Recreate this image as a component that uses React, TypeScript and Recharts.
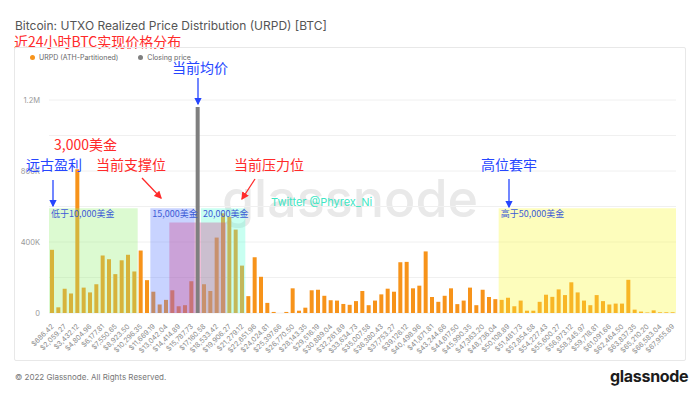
import { BarChart, Bar, XAxis, YAxis, CartesianGrid, ReferenceArea } from 'recharts';

// tick labels under every second bar (bin centre price)
const TICK_LABELS = [
  '$686.42', '$2,059.27', '$3,432.12', '$4,804.96', '$6,177.81', '$7,550.65', '$8,923.50', '$10,296.35',
  '$11,669.19', '$13,042.04', '$14,414.89', '$15,787.73', '$17,160.58', '$18,533.42', '$19,906.27', '$21,279.12',
  '$22,651.96', '$24,024.81', '$25,397.66', '$26,770.50', '$28,143.35', '$29,516.19', '$30,889.04', '$32,261.89',
  '$33,634.73', '$35,007.58', '$36,380.43', '$37,753.27', '$39,126.12', '$40,498.96', '$41,871.81', '$43,244.66',
  '$44,617.50', '$45,990.35', '$47,363.20', '$48,736.04', '$50,108.89', '$51,481.73', '$52,854.58', '$54,227.43',
  '$55,600.27', '$56,973.12', '$58,345.97', '$59,718.81', '$61,091.66', '$62,464.50', '$63,837.35', '$65,210.20',
  '$66,583.04', '$67,955.89',
];

// BTC held per realized-price bucket
const URPD = [
  356000, 32000, 137000, 110000, 810000, 143000, 116000, 162000, 324000, 303000,
  219000, 297000, 328000, 234000, 352000, 185000, 120000, 48000, 74000, 128000,
  38000, 44000, 179000, 0, 162000, 124000, 425000, 562000, 543000, 470000,
  267000, 95000, 314000, 204000, 57000, 6000, 0, 6000, 139000, 13000,
  30000, 128000, 131000, 97000, 72000, 70000, 51000, 46000, 67000, 124000,
  44000, 70000, 105000, 137000, 120000, 286000, 288000, 139000, 154000, 347000,
  90000, 63000, 97000, 139000, 50000, 70000, 143000, 44000, 131000, 90000,
  78000, 74000, 86000, 38000, 70000, 13000, 13000, 63000, 103000, 91000,
  133000, 101000, 173000, 116000, 70000, 44000, 101000, 67000, 48000, 53000,
  53000, 187000, 19000, 8000, 3000, 15000, 4000, 4000, 4000,
];

// closing price bucket
const CLOSE_INDEX = 23;
const CLOSE_VALUE = 1160000;

const Y_TICKS = [0, 200000, 400000, 600000, 800000, 1000000, 1200000];
const Y_LABELS: Record<number, string> = { 0: '0', 400000: '400K', 800000: '800K', 1200000: '1.2M' };

const data = URPD.map((v, i) => ({
  i,
  urpd: v,
  close: i === CLOSE_INDEX ? CLOSE_VALUE : 0,
}));

// highlighted zones drawn over the bars
const ZONES = [
  { from: 0, to: 13, top: 590000, fill: '#9cf07c', label: '低于10,000美金' },
  { from: 16, to: 22, top: 590000, fill: '#6080ff', label: '15,000美金' },
  { from: 24, to: 30, top: 590000, fill: '#60ffd8', label: '20,000美金' },
  { from: 19, to: 27, top: 510000, fill: '#d04890', label: '' },
  { from: 71, to: 98, top: 590000, fill: '#f8f840', label: '高于50,000美金' },
];

const ORANGE = '#f7931a';
const GREY = '#7f7f7f';
const BLUE = '#2646ff';
const RED = '#ff2a2a';
const CJK = '"Noto Sans CJK SC", sans-serif';

function XTick({ x, y, payload }: any) {
  const label = TICK_LABELS[payload.value / 2];
  if (label === undefined) return null;
  const tx = x + 2;
  const ty = y + 6;
  return (
    <text x={tx} y={ty} transform={`rotate(-45 ${tx} ${ty})`} textAnchor="end" fontSize={7} fill="#8a8a8a" fontFamily="Inter, sans-serif">
      {label}
    </text>
  );
}

export default function App() {
  return (
    <div style={{ position: 'absolute', left: 0, top: 0, width: 700, height: 394, background: '#fff', overflow: 'hidden', fontFamily: 'Inter, sans-serif' }}>
      <div style={{ position: 'absolute', left: 15, top: 18, fontSize: 12, color: '#555', whiteSpace: 'nowrap' }}>
        Bitcoin: UTXO Realized Price Distribution (URPD) [BTC]
      </div>
      <div style={{ position: 'absolute', left: 14, top: 31, fontSize: 14, color: RED, fontFamily: CJK, whiteSpace: 'nowrap', lineHeight: '20px' }}>
        近24小时BTC实现价格分布
      </div>
      <div style={{ position: 'absolute', left: 14, top: 47, width: 670, height: 312, border: '1px solid #e8e8e8', borderRadius: 2 }} />

      {/* legend */}
      <div style={{ position: 'absolute', left: 30, top: 53, display: 'flex', alignItems: 'center', fontSize: 7, color: '#666', whiteSpace: 'nowrap' }}>
        <span style={{ width: 5, height: 5, borderRadius: 3, background: ORANGE, marginRight: 4 }} />
        <span style={{ marginRight: 20 }}>URPD (ATH-Partitioned)</span>
        <span style={{ width: 5, height: 5, borderRadius: 3, background: GREY, marginRight: 4 }} />
        <span>Closing price</span>
      </div>

      {/* watermark */}
      <svg width={700} height={394} style={{ position: 'absolute', left: 0, top: 0 }}>
        <text x={350} y={217} textAnchor="middle" fontSize={52} fontWeight={500} fill="#e9e9e9" fontFamily="Inter, sans-serif">glassnode</text>
      </svg>

      <div style={{ position: 'absolute', left: 0, top: 0 }}>
        <BarChart width={700} height={394} data={data} margin={{ top: 100, right: 24, bottom: 0, left: 0 }} barSize={4}>
          <CartesianGrid vertical={false} stroke="#f0f0f0" />
          <XAxis dataKey="i" interval={1} height={81} axisLine={false} tickLine={false} tick={<XTick />} />
          <YAxis
            width={49}
            domain={[0, 1200000]}
            ticks={Y_TICKS}
            tickFormatter={(v: number) => Y_LABELS[v] ?? ''}
            axisLine={false}
            tickLine={false}
            tickSize={0}
            tickMargin={9}
            tick={{ fontSize: 7.5, fill: '#999' }}
          />
          <Bar dataKey="urpd" stackId="s" fill={ORANGE} isAnimationActive={false} />
          {ZONES.map((z, k) => (
            <ReferenceArea
              key={k}
              x1={z.from}
              x2={z.to}
              y1={0}
              y2={z.top}
              fill={z.fill}
              fillOpacity={0.35}
              stroke="none"
              zIndex={350}
              label={z.label ? { value: z.label, position: 'insideTopLeft', offset: 2, fill: '#3c5bd6', fontSize: 9, fontFamily: CJK } : undefined}
            />
          ))}
          <Bar dataKey="close" stackId="s" fill={GREY} isAnimationActive={false} zIndex={400} />
        </BarChart>
      </div>

      {/* annotations */}
      <svg width={700} height={394} style={{ position: 'absolute', left: 0, top: 0, pointerEvents: 'none' }} fontFamily={CJK}>
        <defs>
          <marker id="ab" markerWidth="6" markerHeight="6" refX="5" refY="3" orient="auto">
            <path d="M0,0 L6,3 L0,6 z" fill={BLUE} />
          </marker>
          <marker id="ar" markerWidth="6" markerHeight="6" refX="5" refY="3" orient="auto">
            <path d="M0,0 L6,3 L0,6 z" fill={RED} />
          </marker>
        </defs>
        <text x={200} y={73} textAnchor="middle" fontSize={14} fill={BLUE}>当前均价</text>
        <line x1={198} y1={78} x2={198} y2={104} stroke={BLUE} strokeWidth={1.3} markerEnd="url(#ab)" />

        <text x={54} y={150} fontSize={14} fill={RED}>3,000美金</text>

        <text x={26} y={170} fontSize={14} fill={BLUE}>远古盈利</text>
        <line x1={53} y1={180} x2={53} y2={206} stroke={BLUE} strokeWidth={1.3} markerEnd="url(#ab)" />

        <text x={96} y={170} fontSize={14} fill={RED}>当前支撑位</text>
        <line x1={142} y1={178} x2={161} y2={198} stroke={RED} strokeWidth={1.3} markerEnd="url(#ar)" />

        <text x={234} y={170} fontSize={14} fill={RED}>当前压力位</text>
        <line x1={255} y1={179} x2={242} y2={199} stroke={RED} strokeWidth={1.3} markerEnd="url(#ar)" />

        <text x={481} y={170} fontSize={14} fill={BLUE}>高位套牢</text>
        <line x1={509} y1={179} x2={509} y2={207} stroke={BLUE} strokeWidth={1.3} markerEnd="url(#ab)" />

        <text x={271} y={206} fontSize={11} fill="#3ee6c4" fontFamily="Inter, sans-serif">Twitter @Phyrex_Ni</text>
      </svg>

      <div style={{ position: 'absolute', left: 15, top: 372, fontSize: 8, color: '#777', whiteSpace: 'nowrap' }}>
        © 2022 Glassnode. All Rights Reserved.
      </div>
      <div style={{ position: 'absolute', left: 610, top: 366, fontSize: 16, fontWeight: 700, color: '#1c1c1c', letterSpacing: -0.3 }}>
        glassnode
      </div>
    </div>
  );
}
